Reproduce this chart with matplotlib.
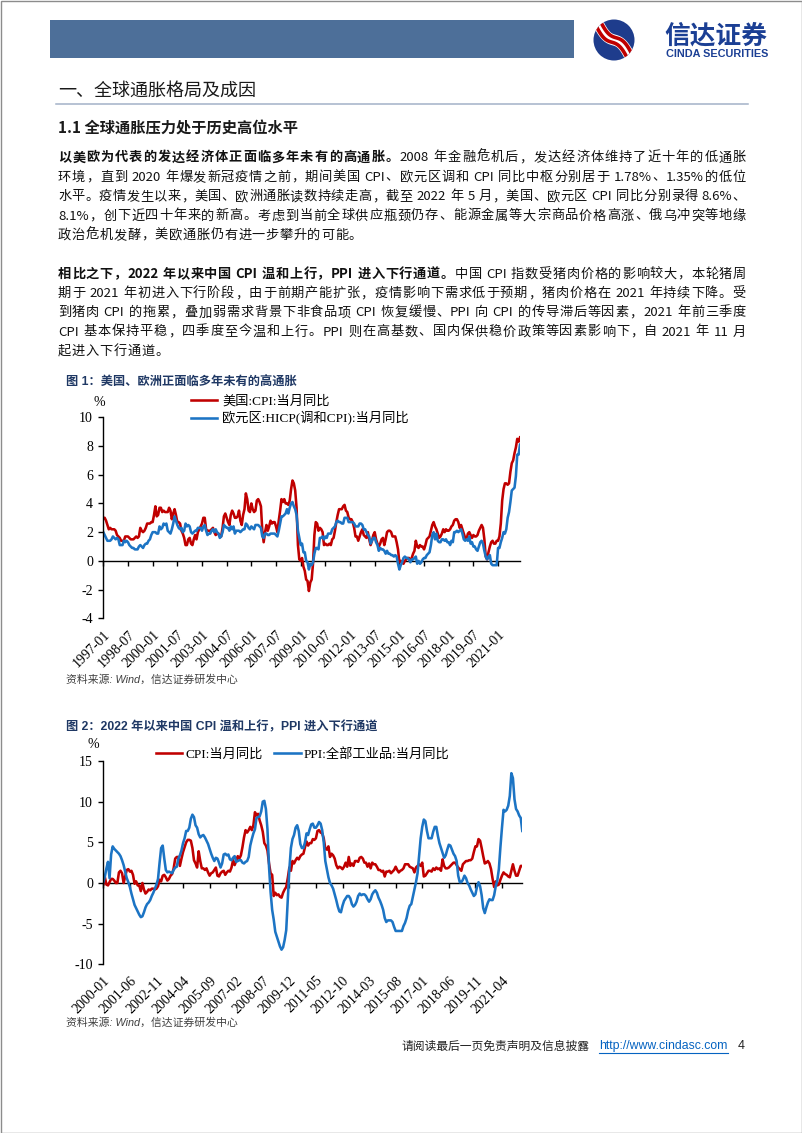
import re
import numpy as np
import matplotlib
matplotlib.use('Agg')
import matplotlib.pyplot as plt
from matplotlib.patches import Rectangle, Circle

plt.rcParams['axes.unicode_minus'] = False

# ------------------------------------------------------------------
# data (monthly, % yoy)
# US CPI, 1997-01 .. 2022-05
us_cpi = [
    3.0, 3.0, 2.8, 2.5, 2.2, 2.3, 2.2, 2.2, 2.2, 2.1, 1.8, 1.7,   # 1997
    1.6, 1.4, 1.4, 1.4, 1.7, 1.7, 1.7, 1.6, 1.5, 1.5, 1.5, 1.6,   # 1998
    1.7, 1.6, 1.7, 2.3, 2.1, 2.0, 2.1, 2.3, 2.6, 2.6, 2.6, 2.7,   # 1999
    2.7, 3.2, 3.8, 3.1, 3.2, 3.7, 3.7, 3.4, 3.5, 3.4, 3.4, 3.4,   # 2000
    3.7, 3.5, 2.9, 3.3, 3.6, 3.2, 2.7, 2.7, 2.6, 2.1, 1.9, 1.6,   # 2001
    1.1, 1.1, 1.5, 1.6, 1.2, 1.1, 1.5, 1.8, 1.5, 2.0, 2.2, 2.4,   # 2002
    2.6, 3.0, 3.0, 2.2, 2.1, 2.1, 2.1, 2.2, 2.3, 2.0, 1.8, 1.9,   # 2003
    1.9, 1.7, 1.7, 2.3, 3.1, 3.3, 3.0, 2.7, 2.5, 3.2, 3.5, 3.3,   # 2004
    3.0, 3.0, 3.1, 3.5, 2.8, 2.5, 3.2, 3.6, 4.7, 4.3, 3.5, 3.4,   # 2005
    4.0, 3.6, 3.4, 3.5, 4.2, 4.3, 4.1, 3.8, 2.1, 1.3, 2.0, 2.5,   # 2006
    2.1, 2.4, 2.8, 2.6, 2.7, 2.7, 2.4, 2.0, 2.8, 3.5, 4.3, 4.1,   # 2007
    4.3, 4.0, 4.0, 3.9, 4.2, 5.0, 5.6, 5.4, 4.9, 3.7, 1.1, 0.1,   # 2008
    0.0, 0.2, -0.4, -0.7, -1.3, -1.4, -2.1, -1.5, -1.3, -0.2, 1.8, 2.7,  # 2009
    2.6, 2.1, 2.3, 2.2, 2.0, 1.1, 1.2, 1.1, 1.1, 1.2, 1.1, 1.5,   # 2010
    1.6, 2.1, 2.7, 3.2, 3.6, 3.6, 3.6, 3.8, 3.9, 3.5, 3.4, 3.0,   # 2011
    2.9, 2.9, 2.7, 2.3, 1.7, 1.7, 1.4, 1.7, 2.0, 2.2, 1.8, 1.7,   # 2012
    1.6, 2.0, 1.5, 1.1, 1.4, 1.8, 2.0, 1.5, 1.2, 1.0, 1.2, 1.5,   # 2013
    1.6, 1.1, 1.5, 2.0, 2.1, 2.1, 2.0, 1.7, 1.7, 1.7, 1.3, 0.8,   # 2014
    -0.1, 0.0, -0.1, -0.2, 0.0, 0.1, 0.2, 0.2, 0.0, 0.2, 0.5, 0.7,  # 2015
    1.4, 1.0, 0.9, 1.1, 1.0, 1.0, 0.8, 1.1, 1.5, 1.6, 1.7, 2.1,   # 2016
    2.5, 2.7, 2.4, 2.2, 1.9, 1.6, 1.7, 1.9, 2.2, 2.0, 2.2, 2.1,   # 2017
    2.1, 2.2, 2.4, 2.5, 2.8, 2.9, 2.9, 2.7, 2.3, 2.5, 2.2, 1.9,   # 2018
    1.6, 1.5, 1.9, 2.0, 1.8, 1.6, 1.8, 1.7, 1.7, 1.8, 2.1, 2.3,   # 2019
    2.5, 2.3, 1.5, 0.3, 0.1, 0.6, 1.0, 1.3, 1.4, 1.2, 1.2, 1.4,   # 2020
    1.4, 1.7, 2.6, 4.2, 5.0, 5.4, 5.4, 5.3, 5.4, 6.2, 6.8, 7.0,   # 2021
    7.5, 7.9, 8.5, 8.3, 8.6,                                      # 2022
]

# euro area HICP, 1997-01 .. 2022-05
ez_hicp = [
    2.0, 1.8, 1.6, 1.4, 1.4, 1.4, 1.5, 1.7, 1.6, 1.5, 1.6, 1.5,   # 1997
    1.1, 1.1, 1.1, 1.4, 1.3, 1.4, 1.3, 1.1, 1.0, 0.9, 0.9, 0.8,   # 1998
    0.8, 0.8, 1.0, 1.1, 1.0, 0.9, 1.1, 1.2, 1.2, 1.4, 1.5, 1.8,   # 1999
    2.0, 2.0, 2.0, 1.9, 1.9, 2.4, 2.2, 2.3, 2.6, 2.5, 2.6, 2.1,   # 2000
    2.0, 1.9, 2.2, 2.6, 3.1, 2.8, 2.5, 2.3, 2.2, 2.3, 2.0, 2.1,   # 2001
    2.6, 2.4, 2.5, 2.4, 2.0, 1.9, 2.0, 2.1, 2.1, 2.3, 2.3, 2.3,   # 2002
    2.1, 2.4, 2.5, 2.1, 1.8, 1.9, 1.9, 2.1, 2.2, 2.0, 2.2, 2.0,   # 2003
    1.9, 1.6, 1.7, 2.0, 2.5, 2.4, 2.3, 2.3, 2.1, 2.4, 2.2, 2.4,   # 2004
    1.9, 2.1, 2.1, 2.1, 2.0, 2.1, 2.2, 2.2, 2.6, 2.5, 2.3, 2.2,   # 2005
    2.4, 2.3, 2.2, 2.5, 2.5, 2.5, 2.4, 2.3, 1.7, 1.6, 1.9, 1.9,   # 2006
    1.8, 1.8, 1.9, 1.9, 1.9, 1.9, 1.8, 1.7, 2.1, 2.6, 3.1, 3.1,   # 2007
    3.2, 3.3, 3.6, 3.3, 3.7, 4.0, 4.1, 3.8, 3.6, 3.2, 2.1, 1.6,   # 2008
    1.1, 1.2, 0.6, 0.6, 0.0, -0.1, -0.6, -0.2, -0.3, -0.1, 0.5, 0.9,  # 2009
    0.9, 0.8, 1.6, 1.6, 1.7, 1.5, 1.7, 1.6, 1.9, 1.9, 1.9, 2.2,   # 2010
    2.3, 2.4, 2.7, 2.8, 2.7, 2.7, 2.6, 2.6, 3.0, 3.0, 3.0, 2.7,   # 2011
    2.7, 2.7, 2.7, 2.6, 2.4, 2.4, 2.4, 2.6, 2.6, 2.5, 2.2, 2.2,   # 2012
    2.0, 1.8, 1.7, 1.2, 1.4, 1.6, 1.6, 1.3, 1.1, 0.7, 0.9, 0.8,   # 2013
    0.8, 0.7, 0.5, 0.7, 0.5, 0.5, 0.4, 0.4, 0.3, 0.4, 0.3, -0.2,  # 2014
    -0.6, -0.3, -0.1, 0.2, 0.3, 0.2, 0.2, 0.1, -0.1, 0.1, 0.1, 0.2,  # 2015
    0.3, -0.2, 0.0, -0.2, -0.1, 0.1, 0.2, 0.2, 0.4, 0.5, 0.6, 1.1,   # 2016
    1.8, 2.0, 1.5, 1.9, 1.4, 1.3, 1.3, 1.5, 1.5, 1.4, 1.5, 1.3,   # 2017
    1.3, 1.1, 1.4, 1.3, 2.0, 2.0, 2.1, 2.0, 2.1, 2.2, 1.9, 1.5,   # 2018
    1.4, 1.5, 1.4, 1.7, 1.2, 1.3, 1.0, 1.0, 0.8, 0.7, 1.0, 1.3,   # 2019
    1.4, 1.2, 0.7, 0.3, 0.1, 0.3, 0.4, -0.2, -0.3, -0.3, -0.3, -0.3,  # 2020
    0.9, 0.9, 1.3, 1.6, 2.0, 1.9, 2.2, 3.0, 3.4, 4.1, 4.9, 5.0,   # 2021
    5.1, 5.9, 7.4, 7.4, 8.1,                                      # 2022
]

labels1 = ['1997-01', '1998-07', '2000-01', '2001-07', '2003-01', '2004-07',
           '2006-01', '2007-07', '2009-01', '2010-07', '2012-01', '2013-07',
           '2015-01', '2016-07', '2018-01', '2019-07', '2021-01']
names1 = ['美国:CPI:当月同比', '欧元区:HICP(调和CPI):当月同比']

# China CPI, 2000-01 .. 2022-05
cn_cpi = [
    -0.2, 0.7, -0.2, -0.3, 0.1, 0.5, 0.5, 0.3, 0.0, 0.0, 1.3, 1.5,   # 2000
    1.2, 0.0, 0.8, 1.6, 1.7, 1.4, 1.5, 1.0, -0.1, 0.2, -0.3, -0.3,   # 2001
    -1.0, 0.0, -0.8, -1.3, -1.1, -0.8, -0.9, -0.7, -0.7, -0.8, -0.7, -0.4,  # 2002
    0.4, 0.2, 0.9, 1.0, 0.7, 0.3, 0.5, 0.9, 1.1, 1.8, 3.0, 3.2,   # 2003
    3.2, 2.1, 3.0, 3.8, 4.4, 5.0, 5.3, 5.3, 5.2, 4.3, 2.8, 2.4,   # 2004
    1.9, 3.9, 2.7, 1.8, 1.8, 1.6, 1.8, 1.3, 0.9, 1.2, 1.3, 1.6,   # 2005
    1.9, 0.9, 0.8, 1.2, 1.4, 1.5, 1.0, 1.3, 1.5, 1.4, 1.9, 2.8,   # 2006
    2.2, 2.7, 3.3, 3.0, 3.4, 4.4, 5.6, 6.5, 6.2, 6.5, 6.9, 6.5,   # 2007
    7.1, 8.7, 8.3, 8.5, 7.7, 7.1, 6.3, 4.9, 4.6, 4.0, 2.4, 1.2,   # 2008
    1.0, -1.6, -1.2, -1.5, -1.4, -1.7, -1.8, -1.2, -0.8, -0.5, 0.6, 1.9,  # 2009
    1.5, 2.7, 2.4, 2.8, 3.1, 2.9, 3.3, 3.5, 3.6, 4.4, 5.1, 4.6,   # 2010
    4.9, 4.9, 5.4, 5.3, 5.5, 6.4, 6.5, 6.2, 6.1, 5.5, 4.2, 4.1,   # 2011
    4.5, 3.2, 3.6, 3.4, 3.0, 2.2, 1.8, 2.0, 1.9, 1.7, 2.0, 2.5,   # 2012
    2.0, 3.2, 2.1, 2.4, 2.1, 2.7, 2.7, 2.6, 3.1, 3.2, 3.0, 2.5,   # 2013
    2.5, 2.0, 2.4, 1.8, 2.5, 2.3, 2.3, 2.0, 1.6, 1.6, 1.4, 1.5,   # 2014
    0.8, 1.4, 1.4, 1.5, 1.2, 1.4, 1.6, 2.0, 1.6, 1.3, 1.5, 1.6,   # 2015
    1.8, 2.3, 2.3, 2.3, 2.0, 1.9, 1.8, 1.3, 1.9, 2.1, 2.3, 2.1,   # 2016
    2.5, 0.8, 0.9, 1.2, 1.5, 1.5, 1.4, 1.8, 1.6, 1.9, 1.7, 1.8,   # 2017
    1.5, 2.9, 2.1, 1.8, 1.8, 1.9, 2.1, 2.3, 2.5, 2.5, 2.2, 1.9,   # 2018
    1.7, 1.5, 2.3, 2.5, 2.7, 2.7, 2.8, 2.8, 3.0, 3.8, 4.5, 4.5,   # 2019
    5.4, 5.2, 4.3, 3.3, 2.4, 2.5, 2.7, 2.4, 1.7, 0.5, -0.5, 0.2,  # 2020
    -0.3, -0.2, 0.4, 0.9, 1.3, 1.1, 1.0, 0.8, 0.7, 1.5, 2.3, 1.5,  # 2021
    0.9, 0.9, 1.5, 2.1, 2.1,                                      # 2022
]

# China PPI, 2000-01 .. 2022-05
cn_ppi = [
    0.1, 0.8, 1.8, 2.6, 0.6, 3.5, 4.5, 4.2, 4.0, 3.8, 3.6, 3.3,   # 2000
    2.8, 2.2, 1.4, 0.6, 0.1, -0.5, -1.3, -2.0, -2.7, -3.1, -3.5, -3.9,  # 2001
    -4.2, -4.1, -3.6, -3.0, -2.6, -2.4, -2.1, -1.6, -1.2, -0.7, -0.2, 0.5,  # 2002
    2.5, 4.3, 4.6, 3.0, 1.6, 1.3, 1.4, 1.3, 1.2, 1.6, 1.9, 2.0,   # 2003
    3.0, 3.4, 4.0, 4.9, 5.5, 6.4, 6.4, 6.8, 7.9, 8.4, 8.1, 7.1,   # 2004
    6.8, 6.0, 5.6, 5.8, 5.9, 5.6, 5.2, 4.8, 4.2, 3.6, 3.1, 2.7,   # 2005
    3.1, 3.0, 2.5, 1.9, 2.4, 3.5, 3.6, 3.4, 3.5, 2.9, 2.8, 3.1,   # 2006
    3.3, 2.6, 2.7, 2.8, 2.8, 2.5, 2.4, 2.6, 2.7, 3.2, 4.6, 5.4,   # 2007
    6.1, 6.6, 8.0, 8.1, 8.2, 8.8, 10.0, 10.1, 9.1, 6.6, 2.0, -1.1,  # 2008
    -3.3, -4.5, -6.0, -6.6, -7.2, -7.8, -8.2, -7.9, -7.0, -5.8, -2.1, 1.7,  # 2009
    4.3, 5.4, 5.9, 6.8, 7.1, 6.4, 4.8, 4.3, 4.3, 5.0, 6.1, 5.9,   # 2010
    6.6, 7.2, 7.3, 6.8, 6.8, 7.1, 7.5, 7.3, 6.5, 5.0, 2.7, 1.7,   # 2011
    0.7, 0.0, -0.3, -0.7, -1.4, -2.1, -2.9, -3.5, -3.6, -2.8, -2.2, -1.9,  # 2012
    -1.6, -1.6, -1.9, -2.6, -2.9, -2.7, -2.3, -1.6, -1.3, -1.5, -1.4, -1.4,  # 2013
    -1.6, -2.0, -2.3, -2.0, -1.4, -1.1, -0.9, -1.2, -1.8, -2.2, -2.7, -3.3,  # 2014
    -4.3, -4.8, -4.6, -4.6, -4.6, -4.8, -5.4, -5.9, -5.9, -5.9, -5.9, -5.9,  # 2015
    -5.3, -4.9, -4.3, -3.4, -2.8, -2.6, -1.7, -0.8, 0.1, 1.2, 3.3, 5.5,   # 2016
    6.9, 7.8, 7.6, 6.4, 5.5, 5.5, 5.5, 6.3, 6.9, 6.9, 5.8, 4.9,   # 2017
    4.3, 3.7, 3.1, 3.4, 4.1, 4.7, 4.6, 4.1, 3.6, 3.3, 2.7, 0.9,   # 2018
    0.1, 0.1, 0.4, 0.9, 0.6, 0.0, -0.3, -0.8, -1.2, -1.6, -1.4, -0.5,  # 2019
    0.1, -0.4, -1.5, -3.1, -3.7, -3.0, -2.4, -2.0, -2.1, -2.1, -1.5, -0.4,  # 2020
    0.3, 1.7, 4.4, 6.8, 9.0, 8.8, 9.0, 9.5, 10.7, 13.5, 12.9, 10.3,  # 2021
    9.1, 8.8, 8.3, 8.0, 6.4,                                      # 2022
]

labels2 = ['2000-01', '2001-06', '2002-11', '2004-04', '2005-09', '2007-02',
           '2008-07', '2009-12', '2011-05', '2012-10', '2014-03', '2015-08',
           '2017-01', '2018-06', '2019-11', '2021-04']
names2 = ['CPI:当月同比', 'PPI:全部工业品:当月同比']

# ------------------------------------------------------------------
CJK = 'Noto Sans CJK SC'
SERIF = ['Liberation Serif', CJK]
SANS = ['Liberation Sans', CJK]
RED = '#C00000'
BLUE = '#1C74C4'
NAVY = '#1F3864'
W, H = 802, 1133

fig = plt.figure(figsize=(W / 100, H / 100), dpi=100)
pg = fig.add_axes([0, 0, 1, 1])
pg.set_xlim(0, W)
pg.set_ylim(H, 0)
pg.axis('off')
renderer = fig.canvas.get_renderer()

# page frame + header
pg.add_patch(Rectangle((0.5, 0.5), W - 1, H - 1, fc='none', ec='#8C8C8C', lw=1))
pg.add_patch(Rectangle((50, 20), 524, 38, fc='#4D6F99', ec='none'))

# logo
circ = Circle((614, 40), 20.5, fc='#1E3C8C', ec='none')
pg.add_patch(circ)
tt = np.linspace(0, 1, 60)
cx = 596 + 36 * tt
cy = 19 + 42 * tt + 5 * np.sin(2 * np.pi * tt)
for off, col, lw in [(0, 'white', 8), (-2.2, RED, 2.6), (2.2, RED, 2.6)]:
    ln, = pg.plot(cx + off, cy - off, color=col, lw=lw, solid_capstyle='butt')
    ln.set_clip_path(circ)
pg.text(664, 43.5, '信达证券', family=CJK, weight='bold', fontsize=18.5,
        color='#1B3F94', va='baseline', ha='left')
pg.text(666, 54, 'CINDA SECURITIES', family=SANS, weight='bold', fontsize=7.8,
        color='#1B3F94', va='center', ha='left')

# section headings
pg.text(58, 91, '一、全球通胀格局及成因', family=CJK, fontsize=13,
        color='#1a1a1a', va='center')
pg.plot([56, 748], [103.5, 103.5], color='#A3B2C7', lw=1.1)
pg.text(58, 128.3, '1.1 全球通胀压力处于历史高位水平', family=CJK, fontsize=11,
        weight='bold', color='#1a1a1a', va='center')


def tokens(segs):
    out = []
    for txt, bold in segs:
        for m in re.finditer(r'[!-~]+|\s+|.', txt):
            s = m.group()
            if s.isspace():
                if out:
                    out[-1][2] = True
            else:
                out.append([s, bold, False])
    return out


def para_line(segs, y, justify=True, x0=58, x1=746, size=9.5):
    arts = []
    for s, b, sp in tokens(segs):
        t = pg.text(0, y + 4.6, s, fontsize=size, family=CJK,
                    weight='bold' if b else 'normal', va='baseline',
                    ha='left', color='#111111')
        arts.append((t, t.get_window_extent(renderer).width, sp))
    space = size * 100 / 72 * 0.28
    total = sum(a[1] for a in arts) + space * sum(1 for a in arts[:-1] if a[2])
    extra = (x1 - x0 - total) / (len(arts) - 1) if justify else 0.6
    x = x0
    for t, w, sp in arts:
        t.set_x(x)
        x += w + extra + (space if sp else 0)


p1 = [
    [('以美欧为代表的发达经济体正面临多年未有的高通胀。', True),
     ('2008 年金融危机后，发达经济体维持了近十年的低通胀', False)],
    [('环境，直到 2020 年爆发新冠疫情之前，期间美国 CPI、欧元区调和 CPI 同比中枢分别居于 1.78%、1.35%的低位', False)],
    [('水平。疫情发生以来，美国、欧洲通胀读数持续走高，截至 2022 年 5 月，美国、欧元区 CPI 同比分别录得 8.6%、', False)],
    [('8.1%，创下近四十年来的新高。考虑到当前全球供应瓶颈仍存、能源金属等大宗商品价格高涨、俄乌冲突等地缘', False)],
    [('政治危机发酵，美欧通胀仍有进一步攀升的可能。', False)],
]
p2 = [
    [('相比之下，2022 年以来中国 CPI 温和上行，PPI 进入下行通道。', True),
     ('中国 CPI 指数受猪肉价格的影响较大，本轮猪周', False)],
    [('期于 2021 年初进入下行阶段，由于前期产能扩张，疫情影响下需求低于预期，猪肉价格在 2021 年持续下降。受', False)],
    [('到猪肉 CPI 的拖累，叠加弱需求背景下非食品项 CPI 恢复缓慢、PPI 向 CPI 的传导滞后等因素，2021 年前三季度', False)],
    [('CPI 基本保持平稳，四季度至今温和上行。PPI 则在高基数、国内保供稳价政策等因素影响下，自 2021 年 11 月', False)],
    [('起进入下行通道。', False)],
]
for k, segs in enumerate(p1):
    para_line(segs, 156.7 + 19.4 * k, justify=k < len(p1) - 1)
for k, segs in enumerate(p2):
    para_line(segs, 273.3 + 19.2 * k, justify=k < len(p2) - 1)


# ------------------------------------------------------------------
def make_chart(rect, series, names, colors, labels, ylim, ystep, every):
    ax = fig.add_axes(rect)
    ax.set_facecolor('none')
    n = len(series[0])
    x = np.arange(n)
    for s, nm, c in zip(series, names, colors):
        ax.plot(x, s, color=c, lw=1.85, label=nm)
    ax.set_xlim(0, n - 1)
    ax.set_ylim(*ylim)
    ax.set_yticks(np.arange(ylim[0], ylim[1] + 0.1, ystep))
    ticks = list(range(0, n, every))
    ax.set_xticks(ticks)
    ax.set_xticklabels(labels, rotation=45, ha='right', rotation_mode='anchor',
                       family='Liberation Serif', fontsize=10)
    for lab in ax.get_yticklabels():
        lab.set_family('Liberation Serif')
        lab.set_fontsize(10)
    ax.tick_params(axis='x', length=0, pad=7)
    ax.tick_params(axis='y', direction='out', length=3.5, width=1, pad=4)
    for sp in ['top', 'right', 'bottom']:
        ax.spines[sp].set_visible(False)
    ax.spines['left'].set_linewidth(1)
    # zero line with tick marks
    sec = ax.secondary_xaxis((0 - ylim[0]) / (ylim[1] - ylim[0]))
    sec.set_xticks(ticks)
    sec.xaxis.set_ticklabels([])
    sec.tick_params(direction='out', length=3.5, width=1)
    sec.spines['bottom'].set_linewidth(1)
    return ax


ax1 = make_chart([103.3 / W, 1 - 618.3 / H, (520 - 103.3) / W, 201 / H],
                 [us_cpi, ez_hicp], names1, [RED, BLUE], labels1, (-4, 10), 2, 18)
ax1.legend(loc='upper left', bbox_to_anchor=(191 / W, 1 - 395.5 / H),
           bbox_transform=fig.transFigure, frameon=False,
           prop=dict(family=SERIF, size=9.5), handlelength=2.0,
           handletextpad=0.35, labelspacing=0.25, borderpad=0, borderaxespad=0)

ax2 = make_chart([103.3 / W, 1 - 964.3 / H, (522.3 - 103.3) / W, 203.3 / H],
                 [cn_cpi, cn_ppi], names2, [RED, BLUE], labels2, (-10, 15), 5, 17)
ax2.legend(loc='upper left', bbox_to_anchor=(156 / W, 1 - 747.5 / H),
           bbox_transform=fig.transFigure, frameon=False, ncol=2,
           prop=dict(family=SERIF, size=9.5), handlelength=2.0,
           handletextpad=0.2, columnspacing=0.9, borderpad=0, borderaxespad=0)

# chart titles, units, sources
pg.text(66, 383, '图 1：美国、欧洲正面临多年未有的高通胀', family=SANS, weight='bold',
        fontsize=8.8, color=NAVY, va='center')
pg.text(99, 402, '%', family=SERIF, fontsize=10, ha='center', va='center')
pg.text(66, 680, '资料来源: Wind，信达证券研发中心', family=SANS, style='italic',
        fontsize=7.8, color='#404040', va='center')

pg.text(66, 727, '图 2：2022 年以来中国 CPI 温和上行，PPI 进入下行通道', family=SANS,
        weight='bold', fontsize=8.8, color=NAVY, va='center')
pg.text(93, 745, '%', family=SERIF, fontsize=10, ha='center', va='center')
pg.text(66, 1023, '资料来源: Wind，信达证券研发中心', family=SANS, style='italic',
        fontsize=7.8, color='#404040', va='center')

# footer
pg.text(401, 1046, '请阅读最后一页免责声明及信息披露', family=CJK, fontsize=8.5,
        color='#222222', va='center')
url = pg.text(599, 1046, 'http://www.cindasc.com', family=SANS, fontsize=8.8,
              color='#0563C1', va='center')
bb = url.get_window_extent(renderer)
pg.plot([599, 599 + bb.width], [1052.5, 1052.5], color='#0563C1', lw=0.8)
pg.text(738, 1046, '4', family=SANS, fontsize=9, color='#222222', va='center')

fig.savefig('out.png', dpi=100)
